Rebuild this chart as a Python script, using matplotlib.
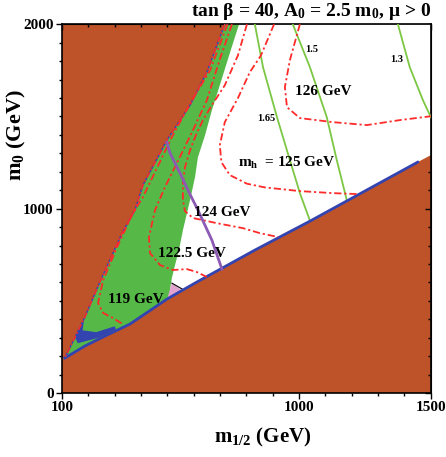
import matplotlib
matplotlib.use("Agg")
import matplotlib.pyplot as plt
from matplotlib.patches import Polygon
from matplotlib.ticker import MultipleLocator, FixedLocator

plt.rcParams['font.family'] = ['Liberation Serif', 'DejaVu Serif']
plt.rcParams['font.weight'] = 'bold'
plt.rcParams['mathtext.fontset'] = 'custom'
plt.rcParams['mathtext.rm'] = 'Liberation Serif:bold'
plt.rcParams['mathtext.it'] = 'Liberation Serif:bold'
plt.rcParams['mathtext.bf'] = 'Liberation Serif:bold'

# (m_1/2, m_0) in GeV
left_x = [718, 650, 586, 498, 407, 377, 328, 252, 187, 157, 111]
left_y = [2000, 1740, 1561, 1371, 1127, 992, 867, 629, 412, 325, 190]

bottom_x = [111, 187, 263, 358, 498, 612, 832, 1041, 1450, 1500]
bottom_y = [190, 255, 309, 374, 509, 602, 775, 932, 1252, 1290]

green_x = [772, 737, 699, 669, 643, 616, 605, 586, 559, 544, 529, 517, 510, 510]
green_y = [2000, 1843, 1669, 1534, 1398, 1279, 1171, 1046, 883, 775, 694, 623, 558, 400]

pink_x = [517, 556, 500]
pink_y = [596, 556, 515]

tip_x = [150, 172, 184, 178, 230, 300, 305, 240, 160]
tip_y = [300, 385, 400, 340, 330, 362, 345, 300, 270]

purple_x = [498, 510, 548, 578, 616, 669, 707]
purple_y = [1360, 1301, 1192, 1100, 992, 829, 672]

mh119_x = [728, 662, 590, 517, 407, 369, 309, 256, 237, 256, 293, 335]
mh119_y = [2000, 1750, 1580, 1388, 1062, 976, 791, 612, 488, 434, 407, 370]
mh1225_x = [745, 699, 650, 597, 536, 491, 453, 430, 434, 472, 521, 574, 612, 650]
mh1225_y = [2000, 1810, 1588, 1425, 1247, 1117, 992, 846, 759, 694, 667, 672, 656, 629]
mh124_x = [802, 768, 718, 669, 635, 608, 586, 567, 559, 559, 567, 597, 688, 787, 851, 920]
mh124_y = [2000, 1832, 1669, 1561, 1480, 1398, 1317, 1225, 1144, 1046, 986, 949, 921, 894, 867, 846]
mh125_x = [905, 855, 813, 768, 718, 699, 705, 737, 802, 870, 1003, 1128, 1219]
mh125_y = [2000, 1830, 1740, 1600, 1469, 1344, 1252, 1182, 1135, 1115, 1095, 1084, 1079]
mh126_x = [1003, 965, 946, 954, 1003, 1128, 1257, 1382, 1500]
mh126_y = [2000, 1805, 1659, 1550, 1491, 1469, 1453, 1480, 1501]

g165_x = [832, 863, 916, 965, 1003, 1041]
g165_y = [2000, 1767, 1496, 1263, 1084, 935]
g15_x = [976, 1041, 1105, 1143, 1181]
g15_y = [2000, 1767, 1496, 1263, 1046]
g13_x = [1375, 1420, 1470, 1500]
g13_y = [2000, 1767, 1588, 1496]

labels = ['126 GeV', 'm$_h$  = 125 GeV', '124 GeV', '122.5 GeV', '119 GeV']
label_x = [1090, 954, 707, 593, 381]
label_y = [1637, 1247, 981, 759, 509]
small_labels = ['1.65', '1.5', '1.3']
small_x = [874, 1049, 1371]
small_y = [1490, 1864, 1810]

brown = '#BE5229'
green = '#55B847'
red = '#FF2A2A'
blue = '#3344B0'
purple = '#8C5AB4'
lgreen = '#7CC743'
dashdot = (0, (4, 1.6, 1.2, 1.6))

fig = plt.figure(figsize=(4.46, 4.57), dpi=100)
ax = fig.add_axes([0.139, 0.140, 0.827, 0.807])
ax.set_facecolor(brown)
ax.set_xlim(100, 1500)
ax.set_ylim(0, 2000)

wx = left_x + bottom_x[1:] + [1500]
wy = left_y + bottom_y[1:] + [2000]
wedge = Polygon(list(zip(wx, wy)), closed=True, fc='white', ec='none', zorder=1)
ax.add_patch(wedge)

gx = left_x + green_x[::-1]
gy = left_y + green_y[::-1]
gp = ax.fill(gx, gy, color=green, lw=0, zorder=2)[0]
gp.set_clip_path(wedge)
pp = ax.fill(pink_x, pink_y, color='#E3A3CF', lw=0, zorder=2)[0]
pp.set_clip_path(wedge)
ax.plot(pink_x[:2], [pink_y[0], pink_y[1] + 8], color='black', lw=0.8, zorder=3)

bp = ax.fill(tip_x, tip_y, color=blue, lw=0, zorder=4)[0]
bp.set_clip_path(wedge)
ax.plot(bottom_x[:-1], bottom_y[:-1], color=blue, lw=2.0, zorder=4)
ax.plot(left_x, left_y, color=blue, lw=1.0, zorder=4)
ax.plot(left_x, left_y, color=red, lw=1.1, ls=dashdot, zorder=5)

for xs, ys in [(g165_x, g165_y), (g15_x, g15_y), (g13_x, g13_y)]:
    ax.plot(xs, ys, color=lgreen, lw=1.3, zorder=3)

for xs, ys in [(mh119_x, mh119_y), (mh1225_x, mh1225_y), (mh124_x, mh124_y),
               (mh125_x, mh125_y), (mh126_x, mh126_y)]:
    ax.plot(xs, ys, color=red, lw=1.3, ls=dashdot, zorder=5)

ax.plot(purple_x, purple_y, color=purple, lw=2.0, zorder=6)

for s, x, y in zip(labels, label_x, label_y):
    ax.text(x, y, s, fontsize=11, ha='center', va='center', zorder=7)
for s, x, y in zip(small_labels, small_x, small_y):
    ax.text(x, y, s, fontsize=7.5, ha='center', va='center', zorder=7)

ax.set_xticks([100, 1000, 1500])
ax.set_yticks([0, 1000, 2000])
ax.xaxis.set_minor_locator(MultipleLocator(100))
ax.yaxis.set_minor_locator(MultipleLocator(100))
ax.tick_params(which='both', direction='out', width=1, labelsize=11, pad=2)
ax.tick_params(which='major', length=4)
ax.tick_params(which='minor', length=2.5)
for sp in ax.spines.values():
    sp.set_linewidth(1.2)

top = ax.secondary_xaxis('top')
top.xaxis.set_major_locator(FixedLocator([100, 1000, 1500]))
top.xaxis.set_minor_locator(MultipleLocator(100))
top.tick_params(which='both', direction='in', labeltop=False, width=1)
top.tick_params(which='major', length=4)
top.tick_params(which='minor', length=2.5)
right = ax.secondary_yaxis('right')
right.yaxis.set_major_locator(FixedLocator([0, 1000, 2000]))
right.yaxis.set_minor_locator(MultipleLocator(100))
right.tick_params(which='both', direction='in', labelright=False, width=1)
right.tick_params(which='major', length=4)
right.tick_params(which='minor', length=2.5)

ax.text(-0.123, 0.70, 'm$_0$ (GeV)', rotation=90, fontsize=16,
        ha='center', va='center', transform=ax.transAxes)
ax.text(0.545, -0.12, 'm$_{1/2}$ (GeV)', fontsize=15,
        ha='center', va='center', transform=ax.transAxes)
ax.text(1.0, 1.006, r'tan $\beta$ = 40, A$_0$ = 2.5 m$_0$, $\mu$ > 0', fontsize=14,
        ha='right', va='bottom', transform=ax.transAxes)

fig.savefig('out.png', dpi=100)
